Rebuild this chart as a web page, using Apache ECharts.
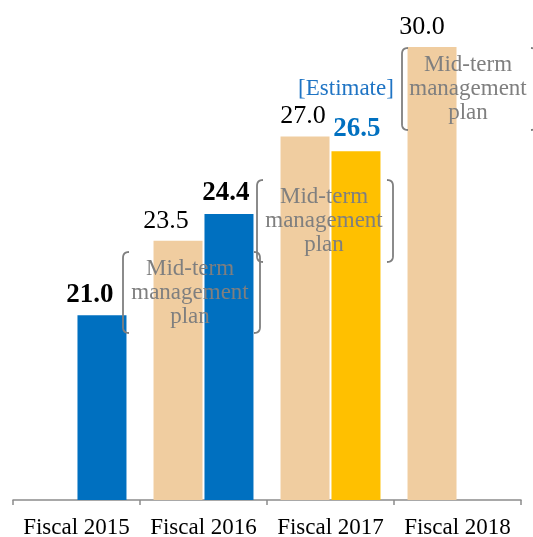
<!DOCTYPE html>
<html>
<head>
<meta charset="utf-8">
<script src="https://cdn.jsdelivr.net/npm/echarts@6/dist/echarts.min.js"></script>
<style>
  html, body { margin: 0; padding: 0; background: #fff; }
  #chart { width: 533px; height: 537px; }
</style>
</head>
<body>
<div id="chart"></div>
<script>
// data
const categories = ['Fiscal 2015', 'Fiscal 2016', 'Fiscal 2017', 'Fiscal 2018']
const planValues = [null, 23.5, 27.0, 30.0]      // mid-term management plan
const actualValues = [21.0, 24.4, 26.5, null]    // results
const estimateIndex = 2                           // fiscal 2017 result is an estimate
const noteText = 'Mid-term\nmanagement\nplan'

// label nudges (px) so values clear the brackets, as in the original slide
const planLabelShift = [0, -12, -2, -10]
const actualLabelShift = [-12, -3, 1, 0]

const FONT = '"Liberation Serif", "Times New Roman", serif'
const BLUE = '#0070C0'
const BEIGE = '#F0CDA0'
const YELLOW = '#FFC000'
const GRAY = '#7f7f7f'

const chart = echarts.init(document.getElementById('chart'))

// rounded square bracket, opening to the right (side = 1) or left (side = -1)
const bracket = (x, y0, y1, side) => {
  const w = 6 * side, r = 6
  const pts = []
  // top corner: quadratic from (x+w, y0) via (x, y0) to (x, y0+r)
  for (let t = 0; t <= 1.001; t += 0.125) {
    const a = (1 - t) * (1 - t), b = 2 * (1 - t) * t, c = t * t
    pts.push([a * (x + w) + b * x + c * x, a * y0 + b * y0 + c * (y0 + r)])
  }
  for (let t = 0; t <= 1.001; t += 0.125) {
    const a = (1 - t) * (1 - t), b = 2 * (1 - t) * t, c = t * t
    pts.push([a * x + b * x + c * (x + w), a * (y1 - r) + b * y1 + c * y1])
  }
  return {
    type: 'polyline',
    z: 100,
    shape: { points: pts },
    style: { stroke: GRAY, lineWidth: 1.8, fill: null }
  }
}

const note = (left, right, y0, y1, cx, cy) => [
  bracket(left, y0, y1, 1),
  bracket(right, y0, y1, -1),
  {
    type: 'text',
    z: 100,
    x: cx,
    y: cy,
    style: {
      text: noteText,
      fill: GRAY,
      font: '23px ' + FONT,
      lineHeight: 24,
      align: 'center',
      verticalAlign: 'middle'
    }
  }
]

const planData = planValues.map((v, i) => ({
  value: v,
  label: { offset: [planLabelShift[i], 0] }
}))

const actualData = actualValues.map((v, i) => {
  const item = { value: v, label: { offset: [actualLabelShift[i], 0] } }
  if (i !== estimateIndex) return item
  item.itemStyle = { color: YELLOW }
  item.label.formatter = (p) => '{e|[Estimate]}\n{v|' + p.value.toFixed(1) + '}'
  item.label.rich = {
    e: { fontFamily: FONT, fontSize: 23, fontWeight: 'normal', color: '#1f74c4', lineHeight: 50, padding: [0, 22, 0, 0] },
    v: { fontFamily: FONT, fontSize: 27, fontWeight: 'bold', color: BLUE, lineHeight: 30 }
  }
  return item
})

chart.setOption({
  animation: false,
  textStyle: { fontFamily: FONT },
  grid: { left: 13, right: 12, top: 47, bottom: 37, outerBoundsMode: 'none' },
  xAxis: {
    type: 'category',
    data: categories,
    axisLine: { lineStyle: { color: '#8c8c8c', width: 1.5 } },
    axisTick: { show: true, length: 5, lineStyle: { color: '#8c8c8c', width: 1.5 } },
    axisLabel: { color: '#000', fontSize: 23, fontFamily: FONT, margin: 16, interval: 0 }
  },
  yAxis: {
    type: 'value',
    min: 14.8,
    max: 30,
    show: false,
    splitLine: { show: false }
  },
  series: [
    {
      name: 'Plan',
      type: 'bar',
      data: planData,
      barWidth: 49,
      barGap: '4%',
      itemStyle: { color: BEIGE },
      label: {
        show: true,
        position: 'top',
        distance: 7,
        color: '#000',
        fontSize: 26,
        fontFamily: FONT,
        formatter: (p) => p.value.toFixed(1)
      }
    },
    {
      name: 'Actual',
      type: 'bar',
      data: actualData,
      barWidth: 49,
      barGap: '4%',
      itemStyle: { color: BLUE },
      label: {
        show: true,
        position: 'top',
        distance: 7,
        color: '#000',
        fontSize: 27,
        fontWeight: 'bold',
        fontFamily: FONT,
        formatter: (p) => p.value.toFixed(1)
      }
    }
  ],
  graphic: [
    ...note(123, 260, 252, 333, 190, 293),
    ...note(257, 393, 180, 262, 324, 221),
    ...note(402, 537, 48, 130, 468, 89)
  ]
})
</script>
</body>
</html>
